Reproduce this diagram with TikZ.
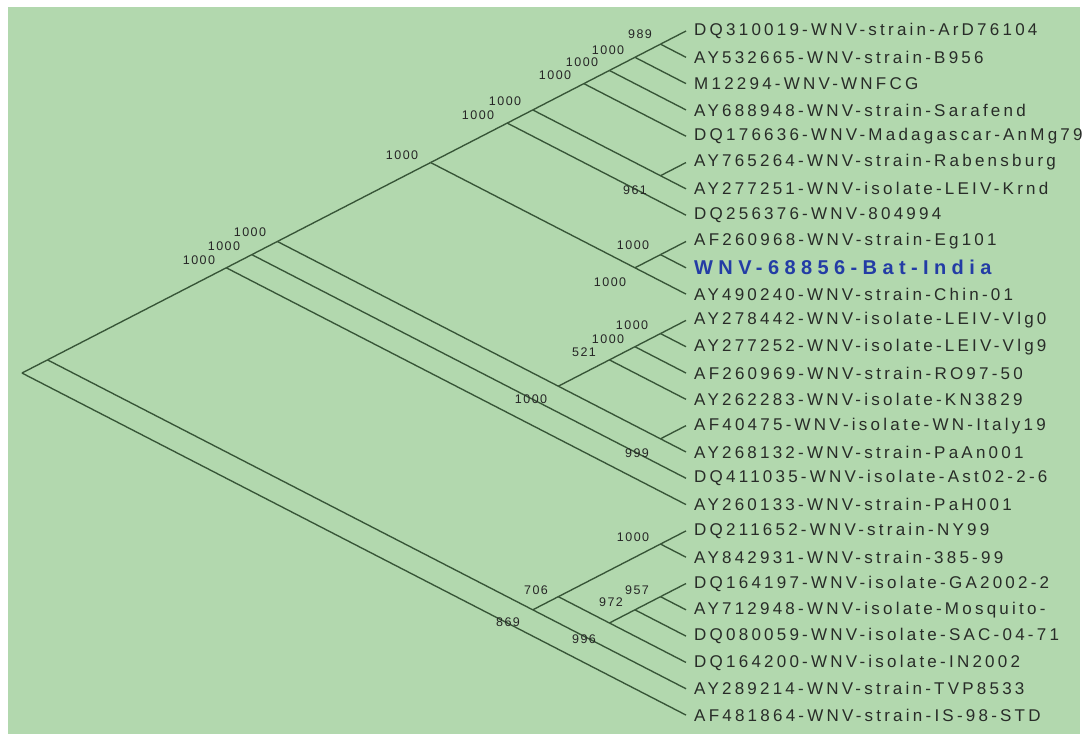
\documentclass[tikz,border=0pt]{standalone}
\usepackage{fontspec}
\setmainfont{Liberation Sans}
\newfontfamily\leaffont[LetterSpace=19]{Liberation Sans}
\newfontfamily\batfont[LetterSpace=27]{Liberation Sans}
\newfontfamily\bootfont[LetterSpace=12]{Liberation Sans}

\definecolor{fond}{RGB}{178,216,174}
\definecolor{vertbranche}{RGB}{55,85,55}
\definecolor{texte}{RGB}{40,44,40}
\definecolor{chauve}{RGB}{35,60,165}

% noeud interne d'un clade (feuilles #2 a #3)
\newcommand{\clade}[3]{\coordinate (#1) at ({686-(#3-#2)*25.54}, {31+((#2+#3)/2-1)*26.31});}

\tikzset{
  branche/.style={draw=vertbranche, line width=1.35pt, line join=round},
  feuille/.style={anchor=west, inner sep=0pt, xshift=8pt, text=texte,
    font=\leaffont\fontsize{17}{19}\selectfont},
  souche/.style={anchor=west, inner sep=0pt, xshift=8pt, text=chauve,
    font=\batfont\bfseries\fontsize{20}{22}\selectfont},
  boot/.style={inner sep=0pt, text=black!85, font=\bootfont\fontsize{12.5}{13}\selectfont}
}

\begin{document}
\begin{tikzpicture}[x=1pt, y=-1pt]
    % Cadre et fond
    \useasboundingbox (0,0) rectangle (1084,734);
    \fill[fond] (8,7) rectangle (1080,734);

    % Extremites des feuilles
    \foreach \i in {1,...,27}
        \coordinate (l\i) at (686, {31+(\i-1)*26.31});

    % Noeuds internes
    \clade{r}{1}{27}
    \clade{n126}{1}{26}
    \clade{n119}{1}{19}
    \clade{n118}{1}{18}
    \clade{n117}{1}{17}
    \clade{n111}{1}{11}
    \clade{n18}{1}{8}
    \clade{n17}{1}{7}
    \clade{n15}{1}{5}
    \clade{n14}{1}{4}
    \clade{n13}{1}{3}
    \clade{n12}{1}{2}
    \clade{n67}{6}{7}
    \clade{n911}{9}{11}
    \clade{n910}{9}{10}
    \clade{n1217}{12}{17}
    \clade{n1215}{12}{15}
    \clade{n1214}{12}{14}
    \clade{n1213}{12}{13}
    \clade{n1617}{16}{17}
    \clade{n2026}{20}{26}
    \clade{n2025}{20}{25}
    \clade{n2021}{20}{21}
    \clade{n2225}{22}{25}
    \clade{n2224}{22}{24}
    \clade{n2223}{22}{23}

    % Branches
    \foreach \a/\b in {r/n126, r/l27, n126/n119, n126/n2026,
        n119/n118, n119/l19, n118/n117, n118/l18, n117/n111, n117/n1217,
        n111/n18, n111/n911, n18/n17, n18/l8, n17/n15, n17/n67,
        n15/n14, n15/l5, n14/n13, n14/l4, n13/n12, n13/l3, n12/l1, n12/l2,
        n67/l6, n67/l7, n911/n910, n911/l11, n910/l9, n910/l10,
        n1217/n1215, n1217/n1617, n1215/n1214, n1215/l15,
        n1214/n1213, n1214/l14, n1213/l12, n1213/l13, n1617/l16, n1617/l17,
        n2026/n2025, n2026/l26, n2025/n2021, n2025/n2225,
        n2021/l20, n2021/l21, n2225/n2224, n2225/l25,
        n2224/n2223, n2224/l24, n2223/l22, n2223/l23}
        \draw[branche] (\a) -- (\b);

    % Noms des souches
    \foreach \i/\s/\t in {1/feuille/DQ310019-WNV-strain-ArD76104,
        2/feuille/AY532665-WNV-strain-B956,
        3/feuille/M12294-WNV-WNFCG,
        4/feuille/AY688948-WNV-strain-Sarafend,
        5/feuille/DQ176636-WNV-Madagascar-AnMg79,
        6/feuille/AY765264-WNV-strain-Rabensburg,
        7/feuille/AY277251-WNV-isolate-LEIV-Krnd,
        8/feuille/DQ256376-WNV-804994,
        9/feuille/AF260968-WNV-strain-Eg101,
        10/souche/WNV-68856-Bat-India,
        11/feuille/AY490240-WNV-strain-Chin-01,
        12/feuille/AY278442-WNV-isolate-LEIV-Vlg0,
        13/feuille/AY277252-WNV-isolate-LEIV-Vlg9,
        14/feuille/AF260969-WNV-strain-RO97-50,
        15/feuille/AY262283-WNV-isolate-KN3829,
        16/feuille/AF40475-WNV-isolate-WN-Italy19,
        17/feuille/AY268132-WNV-strain-PaAn001,
        18/feuille/DQ411035-WNV-isolate-Ast02-2-6,
        19/feuille/AY260133-WNV-strain-PaH001,
        20/feuille/DQ211652-WNV-strain-NY99,
        21/feuille/AY842931-WNV-strain-385-99,
        22/feuille/DQ164197-WNV-isolate-GA2002-2,
        23/feuille/AY712948-WNV-isolate-Mosquito-,
        24/feuille/DQ080059-WNV-isolate-SAC-04-71,
        25/feuille/DQ164200-WNV-isolate-IN2002,
        26/feuille/AY289214-WNV-strain-TVP8533,
        27/feuille/AF481864-WNV-strain-IS-98-STD}
        \node[\s] (t\i) at (l\i) {\t};

    % Valeurs de bootstrap
    \foreach \n/\x/\y/\v in {n12/640/34/989, n13/608/50/1000, n14/582/62/1000,
        n15/555/75/1000, n17/505/101/1000, n18/478/115/1000, n111/402/155/1000,
        n67/635/190/961, n910/633/245/1000, n911/610/282/1000,
        n1213/632/325/1000, n1214/608/339/1000, n1215/584/352/521,
        n1217/531/399/1000, n1617/637/453/999,
        n117/250/232/1000, n118/224/246/1000, n119/199/260/1000,
        n2021/633/537/1000, n2025/536/590/706, n2223/637/590/957,
        n2224/611/602/972, n2225/584/639/996, n2026/508/622/869}
        \node[boot] (b\n) at (\x,\y) {\v};
\end{tikzpicture}
\end{document}
